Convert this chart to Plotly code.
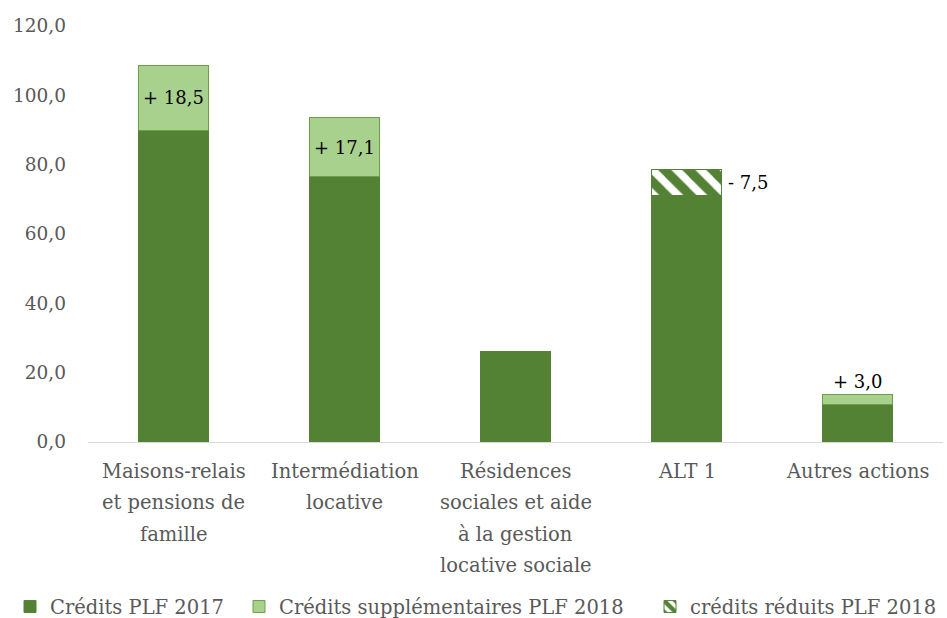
import plotly.graph_objects as go

# Budget lines (millions d'euros)
categories = [
    "Maisons-relais<br>et pensions de<br>famille",
    "Intermédiation<br>locative",
    "Résidences<br>sociales et aide<br>à la gestion<br>locative sociale",
    "ALT 1",
    "Autres actions",
]
credits_2017 = [90.0, 76.5, 26.0, 71.0, 10.8]
credits_supp_2018 = [18.5, 17.1, None, None, 3.0]
credits_reduits_2018 = [None, None, None, 7.5, None]
# where each change label sits: inside the segment, above the bar, or to the right
label_place = ["inside", "inside", None, "right", "above"]

y_ticks = [0, 20, 40, 60, 80, 100, 120]

DARK = "#548235"
LIGHT = "#A9D18E"
GREY = "#595959"
FONT = "DejaVu Serif"
BARGAP = 0.595

fig = go.Figure()
fig.add_trace(go.Bar(
    x=categories, y=credits_2017, name="Crédits PLF 2017", legend="legend",
    marker=dict(color=DARK, line=dict(color=DARK, width=1)),
))
fig.add_trace(go.Bar(
    x=categories, y=credits_supp_2018, name="Crédits supplémentaires PLF 2018",
    legend="legend2",
    marker=dict(color=LIGHT, line=dict(color="#6E9E45", width=1)),
))
fig.add_trace(go.Bar(
    x=categories, y=credits_reduits_2018, name="crédits réduits PLF 2018",
    legend="legend3",
    marker=dict(color="white", line=dict(color=DARK, width=1),
                pattern=dict(shape="\\", fgcolor=DARK, bgcolor="white",
                             fgopacity=1, size=17, solidity=0.55)),
))


def fmt(v, sign):
    return f"{sign} {v:.1f}".replace(".", ",")


LABEL_FONT = dict(family=FONT, size=18, color="black")
annotations = []
half_bar_px = 855 / len(categories) * (1 - BARGAP) / 2
for i, cat in enumerate(categories):
    base = credits_2017[i]
    place = label_place[i]
    if place is None:
        continue
    if credits_supp_2018[i]:
        delta, sign = credits_supp_2018[i], "+"
    else:
        delta, sign = credits_reduits_2018[i], "-"
    txt = fmt(delta, sign)
    if place == "inside":
        annotations.append(dict(x=cat, y=base + delta / 2, text=txt, showarrow=False,
                                xanchor="center", yanchor="middle", font=LABEL_FONT))
    elif place == "above":
        annotations.append(dict(x=cat, y=base + delta, text=txt, showarrow=False,
                                xanchor="center", yanchor="bottom", yshift=0,
                                font=LABEL_FONT))
    else:
        annotations.append(dict(x=cat, y=base + delta / 2, text=txt, showarrow=False,
                                xanchor="left", yanchor="middle", xshift=half_bar_px + 5,
                                font=LABEL_FONT))

# category labels, one line at a time for wider line spacing
for cat in categories:
    for j, line in enumerate(cat.split("<br>")):
        annotations.append(dict(x=cat, y=0, yref="paper", text=line, showarrow=False,
                                xanchor="center", yanchor="middle",
                                yshift=-29 - j * 31.5,
                                font=dict(family=FONT, size=19.5, color=GREY)))


def legend_at(x_px):
    return dict(orientation="h", xref="container", yref="container",
                x=x_px / 947, xanchor="left", y=0.018, yanchor="middle",
                font=dict(family=FONT, size=19.5, color=GREY),
                bgcolor="rgba(0,0,0,0)", itemwidth=30)


fig.update_layout(
    width=947, height=618,
    margin=dict(l=88, r=4, t=26, b=176),
    barmode="stack", bargap=BARGAP,
    plot_bgcolor="white", paper_bgcolor="white",
    font=dict(family=FONT, size=19, color=GREY),
    showlegend=True,
    legend=legend_at(10),
    legend2=legend_at(239),
    legend3=legend_at(650),
    annotations=annotations,
    xaxis=dict(type="category", showticklabels=False, showline=True,
               linecolor="#D9D9D9", linewidth=1, ticks="", showgrid=False,
               range=[-0.5, len(categories) - 0.5]),
    yaxis=dict(range=[0, 120], tickvals=y_ticks,
               ticktext=[f"{v:.1f}".replace(".", ",") for v in y_ticks],
               showgrid=False, zeroline=False, showline=False, ticks="",
               ticklabelstandoff=21,
               tickfont=dict(family=FONT, size=18.5, color=GREY)),
)

fig.write_html("out.html")
